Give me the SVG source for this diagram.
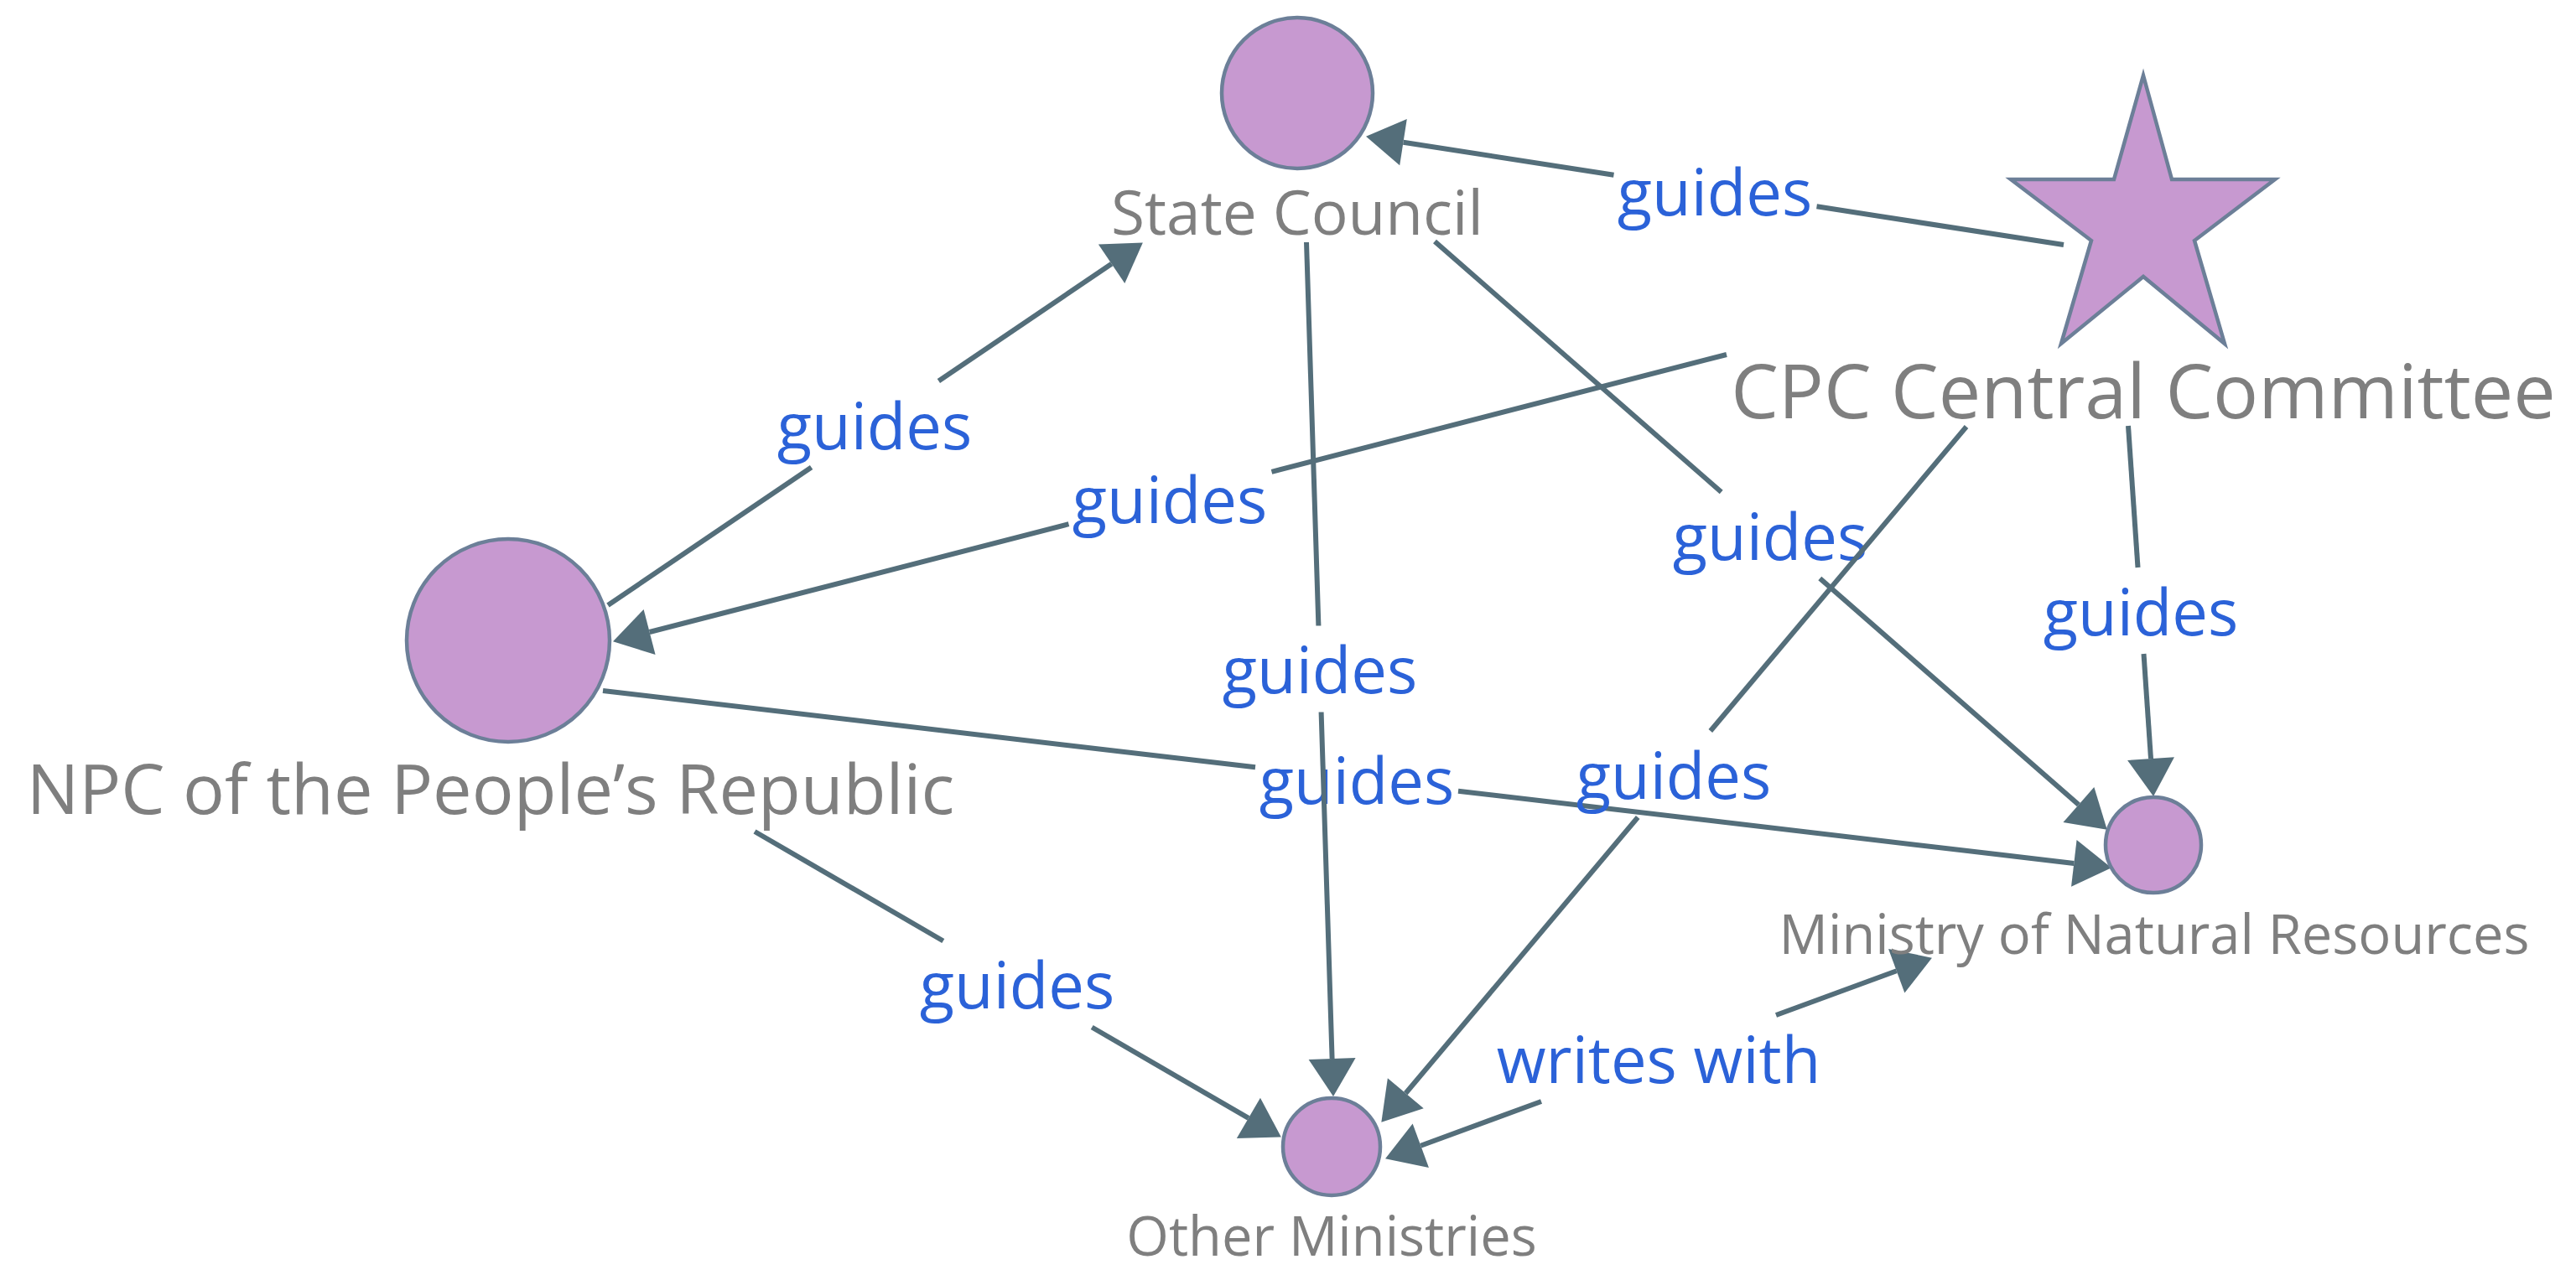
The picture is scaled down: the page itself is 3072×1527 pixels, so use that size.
<svg xmlns="http://www.w3.org/2000/svg" width="3072" height="1527" viewBox="0 0 3072 1527">
<defs>
<style>
.bg{fill:#ffffff}
.shape{fill:#c799d0;stroke:#6c7f98;stroke-width:4.5}
.nlabel{font-family:"Open Sans","Noto Sans","DejaVu Sans",sans-serif;fill:#7f7f7f;text-anchor:middle}
.edge line{stroke:#546e7a;stroke-width:6;fill:none}
.elabel{font-family:"Open Sans","Noto Sans","DejaVu Sans",sans-serif;font-size:76px;fill:#2b62d8;text-anchor:middle}
</style>
<marker id="arrow" markerUnits="userSpaceOnUse" markerWidth="47" markerHeight="58" refX="0" refY="28" orient="auto-start-reverse" overflow="visible">
<path d="M0,0 L45,28 L0,56 Z" fill="#546e7a"/>
</marker>
</defs>
<rect class="bg" x="0" y="0" width="3072" height="1527"/>

<g id="connectors">
  <g class="edge" id="e-cpc-sc">
    <line x1="2461" y1="292" x2="2166.5" y2="246.3"/>
    <line x1="1924.5" y1="208.7" x2="1673.5" y2="169.7" marker-end="url(#arrow)"/>
    <text class="elabel" x="2045" y="257">guides</text>
  </g>
  <g class="edge" id="e-npc-sc">
    <line x1="725" y1="722" x2="967.6" y2="557.5"/>
    <line x1="1119.4" y1="454.5" x2="1325.6" y2="314.7" marker-end="url(#arrow)"/>
    <text class="elabel" x="1043" y="536">guides</text>
  </g>
  <g class="edge" id="e-cpc-npc">
    <line x1="2059" y1="423" x2="1516.5" y2="562.8"/>
    <line x1="1274.5" y1="625.2" x2="774.6" y2="754" marker-end="url(#arrow)"/>
    <text class="elabel" x="1395" y="624">guides</text>
  </g>
  <g class="edge" id="e-npc-mnr">
    <line x1="719" y1="824" x2="1497" y2="915.3"/>
    <line x1="1739" y1="943.7" x2="2473.3" y2="1029.9" marker-end="url(#arrow)"/>
    <text class="elabel" x="1618" y="959">guides</text>
  </g>
  <g class="edge" id="e-sc-om">
    <line x1="1558" y1="289" x2="1572.4" y2="746.5"/>
    <line x1="1575.6" y1="849.5" x2="1588.6" y2="1263" marker-end="url(#arrow)"/>
    <text class="elabel" x="1574" y="827">guides</text>
  </g>
  <g class="edge" id="e-sc-mnr">
    <line x1="1711" y1="288" x2="2052.7" y2="587"/>
    <line x1="2170.3" y1="690" x2="2478.9" y2="960" marker-end="url(#arrow)"/>
    <text class="elabel" x="2111" y="668">guides</text>
  </g>
  <g class="edge" id="e-cpc-om">
    <line x1="2345" y1="509" x2="2039.8" y2="872"/>
    <line x1="1953.2" y1="975" x2="1676.3" y2="1304.3" marker-end="url(#arrow)"/>
    <text class="elabel" x="1996" y="953">guides</text>
  </g>
  <g class="edge" id="e-cpc-mnr">
    <line x1="2538" y1="508" x2="2549.5" y2="677"/>
    <line x1="2556.5" y1="780" x2="2565" y2="905.1" marker-end="url(#arrow)"/>
    <text class="elabel" x="2553" y="758">guides</text>
  </g>
  <g class="edge" id="e-npc-om">
    <line x1="900" y1="992" x2="1124.8" y2="1122.5"/>
    <line x1="1302.2" y1="1225.5" x2="1488.9" y2="1333.9" marker-end="url(#arrow)"/>
    <text class="elabel" x="1213" y="1203">guides</text>
  </g>
  <g class="edge" id="e-om-mnr">
    <line x1="1694.3" y1="1366.8" x2="1838" y2="1314" marker-start="url(#arrow)"/>
    <line x1="2118" y1="1211" x2="2261.7" y2="1158.2" marker-end="url(#arrow)"/>
    <text class="elabel" x="1978" y="1292">writes with</text>
  </g>
</g>

<g id="node-state-council">
  <circle class="shape" cx="1547" cy="111" r="90"/>
  <text class="nlabel" x="1547" y="280" font-size="73">State Council</text>
</g>
<g id="node-cpc">
  <polygon class="shape" points="2556,90 2590,214 2713,214 2617,287 2653,410 2556,330 2458,410 2494,287 2398,214 2521,214"/>
  <text class="nlabel" x="2556" y="499" font-size="90">CPC Central Committee</text>
</g>
<g id="node-npc">
  <circle class="shape" cx="606" cy="764" r="121"/>
  <text class="nlabel" x="585" y="971" font-size="83">NPC of the People’s Republic</text>
</g>
<g id="node-mnr">
  <circle class="shape" cx="2568" cy="1008" r="57"/>
  <text class="nlabel" x="2569" y="1138" font-size="65">Ministry of Natural Resources</text>
</g>
<g id="node-om">
  <circle class="shape" cx="1588" cy="1368" r="58"/>
  <text class="nlabel" x="1588" y="1498" font-size="65">Other Ministries</text>
</g>
</svg>
